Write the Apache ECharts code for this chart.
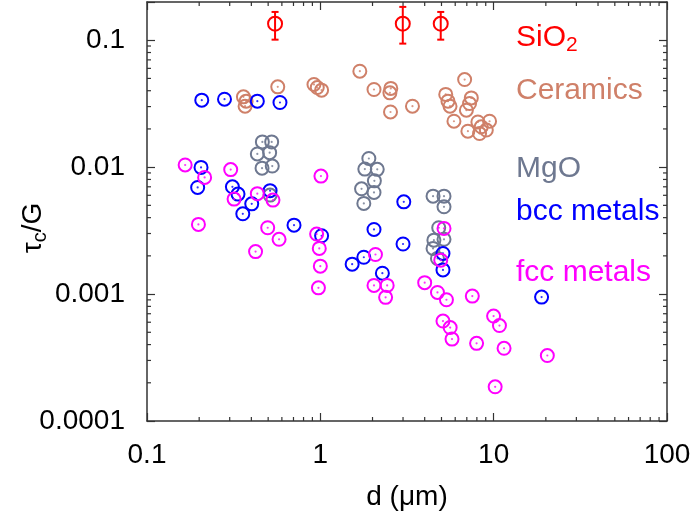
<!DOCTYPE html>
<html>
<head>
<meta charset="utf-8">
<script src="https://cdn.jsdelivr.net/npm/echarts@6/dist/echarts.min.js"></script>
<style>html,body{margin:0;padding:0;background:#fff}#c{width:697px;height:519px}</style>
</head>
<body>
<div id="c"></div>
<script>
// ---- data ----
const xTickLabels = ['0.1', '1', '10', '100'];
const yTickLabels = ['0.0001', '0.001', '0.01', '0.1'];

const sio2X  = [0.548, 2.99, 4.95];
const sio2Y  = [0.135, 0.135, 0.135];
const sio2Lo = [0.101, 0.094, 0.101];
const sio2Hi = [0.167, 0.183, 0.167];

const ceramicsX = [0.360,0.373,0.368,0.568,0.919,0.960,1.017,1.690,2.04,2.55,2.52,2.54,3.40,6.80,5.29,5.45,5.60,7.43,7.26,6.96,5.90,7.10,8.11,9.47,8.48,9.07,8.29];
const ceramicsY = [0.0358,0.0331,0.0302,0.0429,0.0448,0.0424,0.0404,0.0570,0.0409,0.0417,0.0385,0.0272,0.0302,0.0490,0.0374,0.0331,0.0302,0.0351,0.0317,0.0281,0.0230,0.0192,0.0227,0.0230,0.0208,0.0196,0.0184];

const mgoX = [0.463,0.524,0.433,0.510,0.461,0.528,0.513,1.905,1.806,2.13,2.05,1.729,2.04,1.782,4.47,5.17,5.17,4.82,4.52,5.17,4.47,4.74];
const mgoY = [0.0158,0.0158,0.0127,0.0130,0.00982,0.0102,0.00602,0.0117,0.00965,0.00961,0.00780,0.00675,0.00632,0.00518,0.00591,0.00591,0.00487,0.00333,0.00266,0.00270,0.00229,0.00191];

const bccX = [0.207,0.280,0.433,0.585,0.205,0.196,0.311,0.335,0.513,0.402,0.357,0.705,1.017,3.03,2.04,3.00,1.782,1.526,2.28,5.10,5.10,18.9];
const bccY = [0.0337,0.0343,0.0331,0.0323,0.00995,0.00692,0.00700,0.00613,0.00653,0.00514,0.00429,0.00349,0.00288,0.00533,0.00323,0.00248,0.00195,0.00172,0.00146,0.00209,0.00155,0.000947];

const fccX = [0.166,0.215,0.304,0.318,0.433,0.533,0.198,0.497,0.578,0.423,1.008,0.952,0.986,1.0,0.975,2.08,2.04,2.43,2.38,5.17,4.95,4.00,4.74,5.34,7.53,9.99,10.8,5.10,5.61,5.75,7.97,11.48,20.4,10.2];
const fccY = [0.0104,0.00830,0.00956,0.00560,0.00618,0.00550,0.00354,0.00333,0.00270,0.00216,0.00850,0.00297,0.00229,0.00166,0.00112,0.00205,0.00117,0.00117,0.000942,0.00329,0.00185,0.00123,0.00103,0.000902,0.000964,0.000671,0.000565,0.000613,0.000545,0.000442,0.000409,0.000374,0.000328,0.000186];

// ---- styling ----
const FONT = "'Liberation Sans', Arial, Helvetica, sans-serif";
const AX = '#333';
const X_MIN = 0.1, X_MAX = 100, Y_MIN = 0.0001, Y_MAX = 0.2;
const C_SIO2 = '#ff0000', C_CER = '#cf8069', C_MGO = '#6e7890', C_BCC = '#0000ff', C_FCC = '#ff00ff';

const zip = (xs, ys) => xs.map((x, i) => [x, ys[i]]);

function decadeLabel(v, labels, minExp) {
  const l = Math.log10(v);
  const e = Math.round(l);
  if (Math.abs(l - e) > 1e-6) return '';
  return labels[e - minExp] || '';
}

// minor tick positions (axis decoration only)
const mult = [2,3,4,5,6,7,8,9];
const xMinor = [];
[0.1, 1, 10].forEach(d => mult.forEach(m => xMinor.push(m * d)));
const yMinor = [];
[0.0001, 0.001, 0.01].forEach(d => mult.forEach(m => yMinor.push(m * d)));

function ringSeries(name, data, color, size, withDot) {
  const s = [{
    name, type: 'scatter', data, symbol: 'circle', symbolSize: size || 13,
    itemStyle: { color: 'rgba(255,255,255,0)', borderColor: color, borderWidth: 2, opacity: 1 },
    emphasis: { disabled: true }, silent: true
  }];
  if (withDot !== false) s.push({
    name: name + '-dot', type: 'scatter', data, symbol: 'circle', symbolSize: 2.2,
    itemStyle: { color: color }, silent: true
  });
  return s;
}

const minorTickX = {
  type: 'custom', coordinateSystem: 'cartesian2d', silent: true, clip: false,
  data: xMinor.map(v => [v, Y_MIN]),
  renderItem(params, api) {
    const b = api.coord([api.value(0), Y_MIN]);
    const t = api.coord([api.value(0), Y_MAX]);
    const st = { stroke: AX, lineWidth: 1.2 };
    return { type: 'group', children: [
      { type: 'line', shape: { x1: b[0], y1: b[1], x2: b[0], y2: b[1] - 4 }, style: st },
      { type: 'line', shape: { x1: t[0], y1: t[1], x2: t[0], y2: t[1] + 4 }, style: st }
    ]};
  }
};
const minorTickY = {
  type: 'custom', coordinateSystem: 'cartesian2d', silent: true, clip: false,
  data: yMinor.map(v => [X_MIN, v]),
  renderItem(params, api) {
    const l = api.coord([X_MIN, api.value(1)]);
    const r = api.coord([X_MAX, api.value(1)]);
    const st = { stroke: AX, lineWidth: 1.2 };
    return { type: 'group', children: [
      { type: 'line', shape: { x1: l[0], y1: l[1], x2: l[0] + 4, y2: l[1] }, style: st },
      { type: 'line', shape: { x1: r[0], y1: r[1], x2: r[0] - 4, y2: r[1] }, style: st }
    ]};
  }
};
const errorBars = {
  type: 'custom', coordinateSystem: 'cartesian2d', silent: true, clip: false,
  data: sio2X.map((x, i) => [x, sio2Y[i], sio2Lo[i], sio2Hi[i]]),
  renderItem(params, api) {
    const lo = api.coord([api.value(0), api.value(2)]);
    const hi = api.coord([api.value(0), api.value(3)]);
    const st = { stroke: C_SIO2, lineWidth: 2 };
    const w = 3.5;
    return { type: 'group', children: [
      { type: 'line', shape: { x1: lo[0], y1: lo[1], x2: hi[0], y2: hi[1] }, style: st },
      { type: 'line', shape: { x1: lo[0] - w, y1: lo[1], x2: lo[0] + w, y2: lo[1] }, style: st },
      { type: 'line', shape: { x1: hi[0] - w, y1: hi[1], x2: hi[0] + w, y2: hi[1] }, style: st }
    ]};
  }
};

const axisLineStyle = { show: true, lineStyle: { color: AX, width: 1.5 } };
const tickStyle = { show: true, inside: true, length: 8, lineStyle: { color: AX, width: 1.2 } };

const option = {
  animation: false,
  backgroundColor: '#fff',
  grid: { left: 147, right: 30, top: 2, bottom: 98, containLabel: false, outerBoundsMode: 'none' },
  xAxis: [{
    type: 'log', logBase: 10, min: X_MIN, max: X_MAX, position: 'bottom',
    axisLine: axisLineStyle, axisTick: tickStyle, splitLine: { show: false },
    axisLabel: { margin: 20, fontSize: 28, color: '#000', fontFamily: FONT,
      formatter: v => decadeLabel(v, xTickLabels, -1) },
    name: 'd (\u03bcm)', nameLocation: 'middle', nameGap: 62,
    nameTextStyle: { fontSize: 28, color: '#000', fontFamily: FONT }
  }, {
    type: 'log', logBase: 10, min: X_MIN, max: X_MAX, position: 'top',
    axisLine: axisLineStyle, axisTick: tickStyle, splitLine: { show: false },
    axisLabel: { show: false }
  }],
  yAxis: [{
    type: 'log', logBase: 10, min: Y_MIN, max: Y_MAX, position: 'left',
    axisLine: axisLineStyle, axisTick: tickStyle, splitLine: { show: false },
    axisLabel: { margin: 22, fontSize: 28, color: '#000', fontFamily: FONT,
      formatter: v => decadeLabel(v, yTickLabels, -4) }
  }, {
    type: 'log', logBase: 10, min: Y_MIN, max: Y_MAX, position: 'right',
    axisLine: axisLineStyle, axisTick: tickStyle, splitLine: { show: false },
    axisLabel: { show: false }
  }],
  series: [
    minorTickX, minorTickY,
    ...ringSeries('Ceramics', zip(ceramicsX, ceramicsY), C_CER),
    ...ringSeries('MgO', zip(mgoX, mgoY), C_MGO),
    ...ringSeries('bcc metals', zip(bccX, bccY), C_BCC),
    ...ringSeries('fcc metals', zip(fccX, fccY), C_FCC),
    errorBars,
    ...ringSeries('SiO2', zip(sio2X, sio2Y), C_SIO2, 14, false)
  ],
  graphic: [
    { type: 'text', x: 516, y: 38, style: { text: '{a|SiO}{b|2}', fill: C_SIO2, verticalAlign: 'middle',
      rich: { a: { fontSize: 30, fontFamily: FONT, fill: C_SIO2, lineHeight: 36 },
              b: { fontSize: 21, fontFamily: FONT, fill: C_SIO2, lineHeight: 21, padding: [15, 0, 0, 0] } } } },
    { type: 'text', x: 516, y: 91, style: { text: 'Ceramics', fill: C_CER, font: '30px ' + FONT, verticalAlign: 'middle' } },
    { type: 'text', x: 516, y: 169, style: { text: 'MgO', fill: C_MGO, font: '30px ' + FONT, verticalAlign: 'middle' } },
    { type: 'text', x: 516, y: 212, style: { text: 'bcc metals', fill: C_BCC, font: '30px ' + FONT, verticalAlign: 'middle' } },
    { type: 'text', x: 516, y: 273, style: { text: 'fcc metals', fill: C_FCC, font: '30px ' + FONT, verticalAlign: 'middle' } },
    { type: 'text', x: 33, y: 228, rotation: Math.PI / 2,
      style: { text: '{a|\u03c4}{b|c}{a|/G}', align: 'center', verticalAlign: 'middle', fill: '#000',
        rich: { a: { fontSize: 28, fontFamily: FONT, fill: '#000', lineHeight: 34 },
                b: { fontSize: 20, fontFamily: FONT, fill: '#000', lineHeight: 20, padding: [14, 0, 0, 0] } } } }
  ]
};

const chart = echarts.init(document.getElementById('c'), null, { renderer: 'canvas' });
chart.setOption(option);
</script>
</body>
</html>
